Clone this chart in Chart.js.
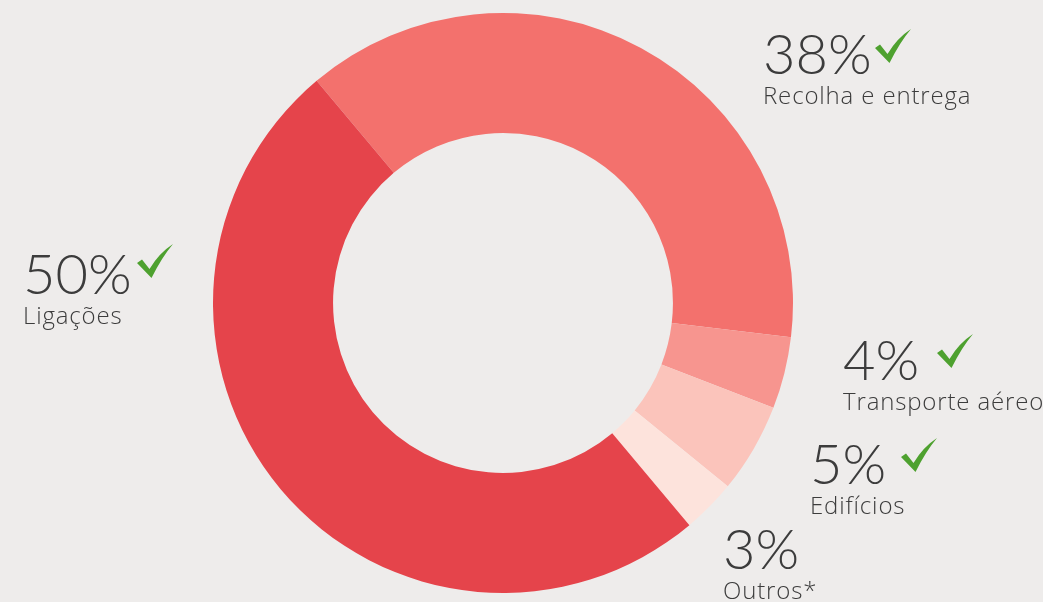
<!DOCTYPE html>
<html>
<head>
<meta charset="utf-8">
<script src="https://cdn.jsdelivr.net/npm/chart.js@4/dist/chart.umd.min.js"></script>
<style>
  body { margin: 0; background: #eeeceb; }
  #wrap { position: relative; width: 1043px; height: 602px; overflow: hidden; font-family: Lato, "Open Sans", sans-serif; color: #3c3c3c; }
  canvas { position: absolute; left: 0; top: 0; }
  .pct { position: absolute; font-size: 56px; line-height: 56px; font-weight: 300; white-space: nowrap; }
  .lbl { position: absolute; font-family: "Open Sans", Lato, sans-serif; font-size: 24px; line-height: 24px; font-weight: 300; letter-spacing: 0.85px; white-space: nowrap; }
  .chk { position: absolute; width: 36px; height: 34px; }
</style>
</head>
<body>
<div id="wrap">
  <canvas id="donut" width="1043" height="602"></canvas>
</div>
<script>
// order follows the ring clockwise from the top-left
const labels = ["Recolha e entrega", "Transporte aéreo", "Edifícios", "Outros*", "Ligações"];
const values = [38, 4, 5, 3, 50];
const checked = [true, true, true, false, true];
const colors = ["#f3716d", "#f7958f", "#fbc4bb", "#fde3dc", "#e5444b"];

// where each annotation sits (percent baseline + checkmark box)
const layout = [
  { x: 763, y: 75, cx: 875, cy: 29 },
  { x: 843, y: 381, cx: 937, cy: 334 },
  { x: 810, y: 485, cx: 901, cy: 438 },
  { x: 723, y: 570, cx: 0, cy: 0 },
  { x: 23, y: 295, cx: 137, cy: 244 }
];

const wrap = document.getElementById("wrap");

new Chart(document.getElementById("donut"), {
  type: "doughnut",
  data: { labels, datasets: [{ data: values, backgroundColor: colors, borderWidth: 0 }] },
  options: {
    responsive: false,
    animation: false,
    rotation: -40,
    cutout: "58.6%",
    layout: { padding: { left: 213, right: 250, top: 13, bottom: 9 } },
    plugins: { legend: { display: false }, tooltip: { enabled: false } }
  }
});

labels.forEach((name, i) => {
  const p = layout[i];
  const pct = document.createElement("div");
  pct.className = "pct";
  pct.textContent = values[i] + "%";
  pct.style.left = p.x + "px";
  pct.style.top = (p.y - 0.887 * 56) + "px";
  wrap.appendChild(pct);

  const lbl = document.createElement("div");
  lbl.className = "lbl";
  lbl.textContent = name;
  lbl.style.left = p.x + "px";
  lbl.style.top = (p.y + 29 - 0.888 * 24) + "px";
  wrap.appendChild(lbl);

  if (checked[i]) {
    wrap.insertAdjacentHTML("beforeend",
      `<svg class="chk" style="left:${p.cx}px;top:${p.cy}px" viewBox="0 0 36 34">
         <path d="M0,19 L5,15.5 L12.5,25 Q22,9 36,0 Q25,13 14.5,34 Z" fill="#4ea12f"/>
       </svg>`);
  }
});
</script>
</body>
</html>
